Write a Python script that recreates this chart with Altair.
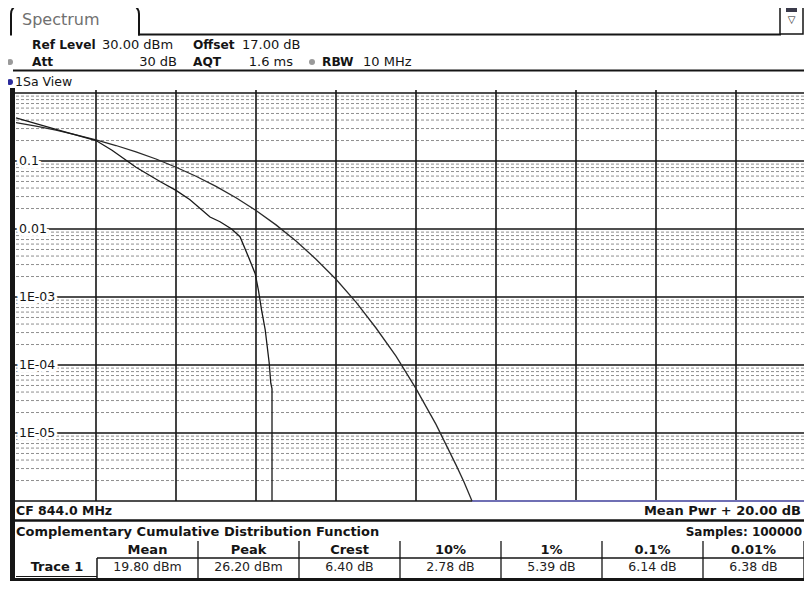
import altair as alt
import pandas as pd

FONT = "DejaVu Sans"

# ---------------- values ----------------
# measured CCDF trace (x: dB above mean power, y: probability)
trace_db = [0.0, 1.0, 2.0, 2.4, 2.78, 3.0, 3.6, 4.0, 4.35, 4.85, 5.1, 5.39, 5.6,
            5.81, 5.98, 6.06, 6.14, 6.23, 6.33, 6.37, 6.40, 6.40]
trace_p = [0.43, 0.292, 0.20, 0.144, 0.10, 0.081, 0.050, 0.037, 0.027, 0.015, 0.0128,
           0.010, 0.0077, 0.0039, 0.0022, 0.00126, 0.00064, 0.00033, 0.000107,
           0.000054, 0.000045, 0.000001]

# reference (Gaussian) curve
ref_db = [0, 0.5, 1, 1.5, 2, 2.5, 3, 3.5, 4, 4.5, 5, 5.5, 6, 6.5, 7, 7.5, 8, 8.5,
          9, 9.5, 10, 10.5, 11, 11.2, 11.4]
ref_p = [0.368, 0.326, 0.284, 0.243, 0.205, 0.169, 0.136, 0.107, 0.081, 0.0597,
         0.0423, 0.0288, 0.0187, 0.0115, 0.00666, 0.0036, 0.00182, 0.00084,
         0.00035, 0.000135, 0.000045, 0.0000134, 0.0000034, 0.0000019, 0.000001]

# reference curve continuing along the floor of the display
floor_db = [11.4, 19.7]
floor_p = [0.000001, 0.000001]

# grid / axis
grid_db = [2, 4, 6, 8, 10, 12, 14, 16, 18]
decade_p = [1, 0.1, 0.01, 0.001, 0.0001, 0.00001, 0.000001]
ylabel_p = [0.1, 0.01, 0.001, 0.0001, 0.00001]
ylabel_text = ["0.1", "0.01", "1E-03", "1E-04", "1E-05"]
minor_mant = [2, 3, 4, 5, 6, 7, 8, 9]
minor_decades = [0.1, 0.01, 0.001, 0.0001, 0.00001, 0.000001]

# result table
table_head = ["Mean", "Peak", "Crest", "10%", "1%", "0.1%", "0.01%"]
table_vals = ["19.80 dBm", "26.20 dBm", "6.40 dB", "2.78 dB", "5.39 dB", "6.14 dB", "6.38 dB"]

# ---------------- layout ----------------
W, H = 788, 408          # plot area
X0, Y0 = 16, 93          # plot origin on the page
INK = "#151515"

xs = alt.Scale(domain=[0, 19.7], nice=False, zero=False)
ys = alt.Scale(type="log", domain=[0.000001, 1], nice=False)

dummy = pd.DataFrame({"k": [0]})


def text(s, x, y, size=13, bold=False, color=INK, align="left"):
    return alt.Chart(dummy).mark_text(
        text=s, align=align, baseline="middle", font=FONT, fontSize=size,
        fontWeight="bold" if bold else "normal", color=color
    ).encode(x=alt.value(x - X0), y=alt.value(y - Y0))


def hline(x1, x2, y, w=2.0, color=INK):
    return alt.Chart(dummy).mark_rule(color=color, strokeWidth=w).encode(
        x=alt.value(x1 - X0), x2=alt.value(x2 - X0), y=alt.value(y - Y0))


def vline(x, y1, y2, w=1.5, color=INK):
    return alt.Chart(dummy).mark_rule(color=color, strokeWidth=w).encode(
        x=alt.value(x - X0), y=alt.value(y1 - Y0), y2=alt.value(y2 - Y0))


def box(x1, x2, y1, y2, **kw):
    return alt.Chart(dummy).mark_rect(**kw).encode(
        x=alt.value(x1 - X0), x2=alt.value(x2 - X0),
        y=alt.value(y1 - Y0), y2=alt.value(y2 - Y0))


def dot(x, y, color, size=42):
    return alt.Chart(dummy).mark_circle(color=color, size=size, opacity=1).encode(
        x=alt.value(x - X0), y=alt.value(y - Y0))


layers = []

# ---- header ----
layers += [
    box(11, 139, 4, 40, fill="white", stroke=INK, strokeWidth=2,
        cornerRadiusTopLeft=10, cornerRadiusTopRight=10),
    box(8, 142, 35.5, 41, fill="white"),
    hline(138, 781, 34.5, 2),
    box(780, 803, 3, 34, fill="white", stroke=INK, strokeWidth=1.5,
        cornerRadiusTopLeft=5, cornerRadiusTopRight=5),
    box(786, 797, 8, 12, fill="#3a3a4a"),
    text("\u25bd", 791.5, 20, size=10, align="center"),
    text("Spectrum", 22, 20, size=16, color="#707070"),
    text("Ref Level", 32, 45, size=12.2, bold=True),
    text("30.00 dBm", 102, 45),
    text("Offset", 193, 45, size=12.2, bold=True),
    text("17.00 dB", 242, 45),
    dot(10, 62, "#9a9a9a", size=36),
    text("Att", 32, 62, size=12.2, bold=True),
    text("30 dB", 177, 62, align="right"),
    text("AQT", 193, 62, size=12.2, bold=True),
    text("1.6 ms", 293, 62, align="right"),
    dot(312, 62, "#9a9a9a", size=36),
    text("RBW", 322, 62, size=12.2, bold=True),
    text("10 MHz", 363, 62),
    hline(13, 804, 70.5, 2),
    dot(10, 82, "#2b2b9c", size=36),
    text("1Sa View", 15, 82, size=12.5),
    box(10, 15, 88, 581, fill=INK),
]

# ---- grid ----
minor_df = pd.DataFrame({"p": [m * d for d in minor_decades for m in minor_mant]})
layers.append(
    alt.Chart(minor_df).mark_rule(color="#8f8f8f", strokeWidth=1, strokeDash=[3, 2]).encode(
        y=alt.Y("p:Q", scale=ys, axis=None), x=alt.value(0), x2=alt.value(W)))

layers.append(
    alt.Chart(pd.DataFrame({"db": grid_db})).mark_rule(color=INK, strokeWidth=1.6).encode(
        x=alt.X("db:Q", scale=xs, axis=None), y=alt.value(-3), y2=alt.value(H)))

layers.append(
    alt.Chart(pd.DataFrame({"p": decade_p})).mark_rule(color=INK, strokeWidth=1.6).encode(
        y=alt.Y("p:Q", scale=ys, axis=None), x=alt.value(-1), x2=alt.value(W)))

lab_df = pd.DataFrame({"p": ylabel_p, "label": ylabel_text})
layers.append(
    alt.Chart(lab_df).mark_text(align="left", baseline="middle", font=FONT, fontSize=12.5,
                                color="white", stroke="white", strokeWidth=6).encode(
        y=alt.Y("p:Q", scale=ys, axis=None), x=alt.value(3), text="label:N"))
layers.append(
    alt.Chart(lab_df).mark_text(align="left", baseline="middle", font=FONT, fontSize=12.5,
                                color=INK).encode(
        y=alt.Y("p:Q", scale=ys, axis=None), x=alt.value(3), text="label:N"))

# ---- curves ----
ref_df = pd.DataFrame({"db": ref_db, "p": ref_p, "i": range(len(ref_db))})
floor_df = pd.DataFrame({"db": floor_db, "p": floor_p, "i": range(len(floor_db))})
trace_df = pd.DataFrame({"db": trace_db, "p": trace_p, "i": range(len(trace_db))})

layers.append(
    alt.Chart(floor_df).mark_line(color="#6f6fb4", strokeWidth=2).encode(
        x=alt.X("db:Q", scale=xs, axis=None), y=alt.Y("p:Q", scale=ys, axis=None),
        order="i:Q"))
layers.append(
    alt.Chart(ref_df).mark_line(color="#2a2a2a", strokeWidth=1.3).encode(
        x=alt.X("db:Q", scale=xs, axis=None), y=alt.Y("p:Q", scale=ys, axis=None),
        order="i:Q"))
layers.append(
    alt.Chart(trace_df).mark_line(color="#1a1a1a", strokeWidth=1.3).encode(
        x=alt.X("db:Q", scale=xs, axis=None), y=alt.Y("p:Q", scale=ys, axis=None),
        order="i:Q"))

# ---- footer ----
layers += [
    text("CF 844.0 MHz", 16, 511, size=12.5, bold=True),
    text("Mean Pwr + 20.00 dB", 801, 511, bold=True, align="right"),
    hline(13, 804, 520.5, 2.5),
    text("Complementary Cumulative Distribution Function", 16, 532, bold=True),
    text("Samples: 100000", 802, 532, size=12, bold=True, align="right"),
    hline(97, 804, 558, 1.5),
    vline(97, 558, 578, 1.5),
    hline(16, 97, 576.5, 1.2),
    text("Trace 1", 57, 567, bold=True, align="center"),
    hline(10, 804, 579.5, 3),
]

tab_df = pd.DataFrame({"head": table_head, "val": table_vals, "i": range(len(table_head))})
tab_base = alt.Chart(tab_df).transform_calculate(
    xc=f"{147.5 - X0} + 101 * datum.i", xb=f"{198 - X0} + 101 * datum.i")
layers.append(
    tab_base.mark_rule(color=INK, strokeWidth=1.3).encode(
        x=alt.X("xb:Q", scale=None, axis=None), y=alt.value(541 - Y0), y2=alt.value(578 - Y0)))
layers.append(
    tab_base.mark_text(align="center", baseline="middle", font=FONT, fontSize=13,
                       fontWeight="bold", color=INK).encode(
        x=alt.X("xc:Q", scale=None, axis=None), y=alt.value(550 - Y0), text="head:N"))
layers.append(
    tab_base.mark_text(align="center", baseline="middle", font=FONT, fontSize=12.5,
                       color="#222222").encode(
        x=alt.X("xc:Q", scale=None, axis=None), y=alt.value(567 - Y0), text="val:N"))

chart = alt.layer(*layers).properties(
    width=W, height=H,
    padding={"left": 8, "top": 85, "right": 0, "bottom": 82},
    autosize=alt.AutoSizeParams(type="none"),
    background="white",
).configure_view(stroke=None)

chart.save("out.html", embed_options={"renderer": "svg", "actions": False})
